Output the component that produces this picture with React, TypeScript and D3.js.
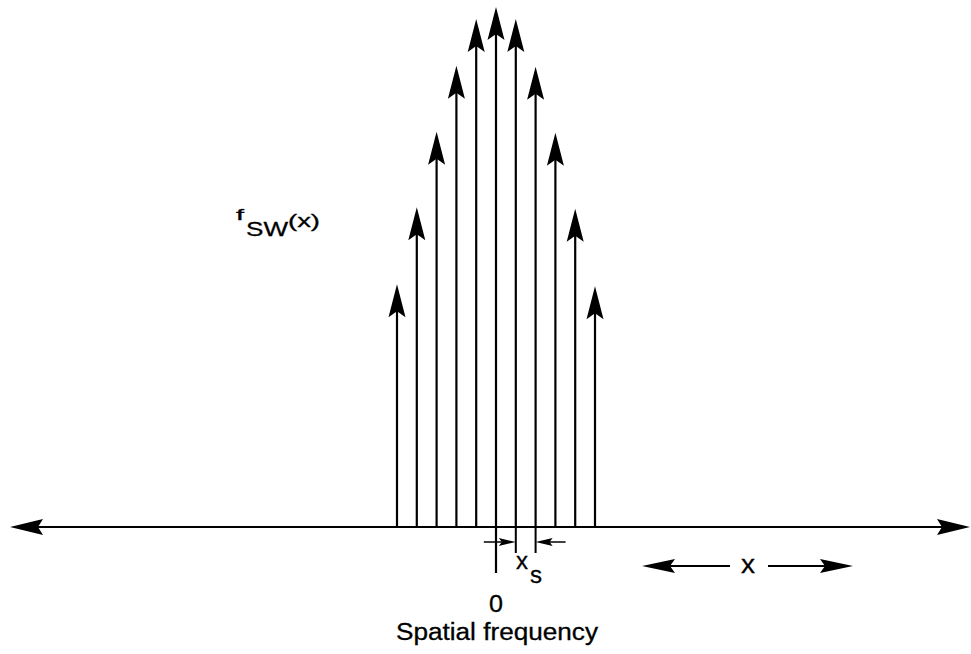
import React, { useRef, useEffect } from "react";
import * as d3 from "d3";

// sample index n (spikes sit at n * x_s) and the envelope height of each spike
const sampleIndex = [-5, -4, -3, -2, -1, 0, 1, 2, 3, 4, 5];
const amplitude = [0.467, 0.615, 0.76, 0.887, 0.977, 1.0, 0.977, 0.885, 0.758, 0.612, 0.463];
const spacingMarks = [1, 2]; // the two samples used to show x_s

const W = 971;
const H = 654;

const SpatialSpikes = () => {
	const svgRef = useRef<SVGSVGElement | null>(null);

	useEffect(() => {
		if (!svgRef.current) return;
		const svg = d3.select(svgRef.current);
		svg.selectAll("*").remove();

		const x = d3.scaleLinear().domain([-5, 5]).range([397, 595]);
		const y = d3.scaleLinear().domain([0, 1]).range([527, 7]);
		const base = y(0);
		const ink = "#000";
		const font = "'Liberation Sans', Arial, Helvetica, sans-serif";

		// notched arrow head, tip at origin, pointing up
		const head = (len: number, half: number, notch: number) =>
			`M0,0 L${half},${len} L0,${len - notch} L${-half},${len} Z`;

		const g = svg.append("g");

		// horizontal axis with heads at both ends
		const axL = 10;
		const axR = 970;
		g.append("line")
			.attr("x1", axL + 20)
			.attr("x2", axR - 20)
			.attr("y1", base)
			.attr("y2", base)
			.attr("stroke", ink)
			.attr("stroke-width", 2);
		g.append("path")
			.attr("d", head(33, 8, 5))
			.attr("transform", `translate(${axL},${base}) rotate(-90)`)
			.attr("fill", ink);
		g.append("path")
			.attr("d", head(33, 8, 5))
			.attr("transform", `translate(${axR},${base}) rotate(90)`)
			.attr("fill", ink);

		// spikes
		const spikes = g
			.selectAll("g.spike")
			.data(sampleIndex.map((n, i) => ({ n, a: amplitude[i] })))
			.join("g")
			.attr("class", "spike");
		spikes
			.append("line")
			.attr("x1", (d) => x(d.n))
			.attr("x2", (d) => x(d.n))
			.attr("y1", base)
			.attr("y2", (d) => y(d.a) + 25)
			.attr("stroke", ink)
			.attr("stroke-width", 2.2);
		spikes
			.append("path")
			.attr("d", head(33, 8.5, 6))
			.attr("transform", (d) => `translate(${x(d.n)},${y(d.a)})`)
			.attr("fill", ink);

		// zero tick and the x_s spacing marker
		g.append("line")
			.attr("x1", x(0))
			.attr("x2", x(0))
			.attr("y1", base)
			.attr("y2", 573)
			.attr("stroke", ink)
			.attr("stroke-width", 2.2);
		spacingMarks.forEach((n) => {
			g.append("line")
				.attr("x1", x(n))
				.attr("x2", x(n))
				.attr("y1", base)
				.attr("y2", 553)
				.attr("stroke", ink)
				.attr("stroke-width", 2);
		});
		const markY = 542;
		const xa = x(spacingMarks[0]);
		const xb = x(spacingMarks[1]);
		g.append("line")
			.attr("x1", xa - 32)
			.attr("x2", xa - 10)
			.attr("y1", markY)
			.attr("y2", markY)
			.attr("stroke", ink)
			.attr("stroke-width", 1.5);
		g.append("path")
			.attr("d", head(17, 4, 3))
			.attr("transform", `translate(${xa},${markY}) rotate(90)`)
			.attr("fill", ink);
		g.append("line")
			.attr("x1", xb + 10)
			.attr("x2", xb + 30)
			.attr("y1", markY)
			.attr("y2", markY)
			.attr("stroke", ink)
			.attr("stroke-width", 1.5);
		g.append("path")
			.attr("d", head(17, 4, 3))
			.attr("transform", `translate(${xb},${markY}) rotate(-90)`)
			.attr("fill", ink);

		// "<-- x -->" scale arrow
		const arY = 566;
		g.append("line").attr("x1", 665).attr("x2", 730).attr("y1", arY).attr("y2", arY).attr("stroke", ink).attr("stroke-width", 2);
		g.append("line").attr("x1", 768).attr("x2", 830).attr("y1", arY).attr("y2", arY).attr("stroke", ink).attr("stroke-width", 2);
		g.append("path").attr("d", head(33, 7, 5)).attr("transform", `translate(642,${arY}) rotate(-90)`).attr("fill", ink);
		g.append("path").attr("d", head(33, 7, 5)).attr("transform", `translate(853,${arY}) rotate(90)`).attr("fill", ink);

		// text, stretched to the widths in the reference
		const label = (
			txt: string,
			x0: number,
			yb: number,
			size: number,
			len: number
		) =>
			g.append("text")
				.attr("x", x0)
				.attr("y", yb)
				.attr("font-family", font)
				.attr("font-size", size)
				.attr("fill", ink)
				.attr("stroke", ink)
				.attr("stroke-width", 0.3)
				.attr("textLength", len)
				.attr("lengthAdjust", "spacingAndGlyphs")
				.text(txt);

		label("f", 236, 220, 14, 8);
		label("SW", 246, 236, 21, 42);
		label("(x)", 288, 227, 19, 32);

		label("x", 516, 569, 24, 12);
		label("s", 530, 583, 23, 12);
		label("0", 489, 612, 24, 14);
		label("Spatial frequency", 396, 640, 23, 202);
		label("x", 741, 573, 25, 14);
	}, []);

	return (
		<svg
			ref={svgRef}
			width={W}
			height={H}
			style={{ position: "absolute", left: 0, top: 0, background: "#fff" }}
		></svg>
	);
};

export default function App() {
	return <SpatialSpikes />;
}
